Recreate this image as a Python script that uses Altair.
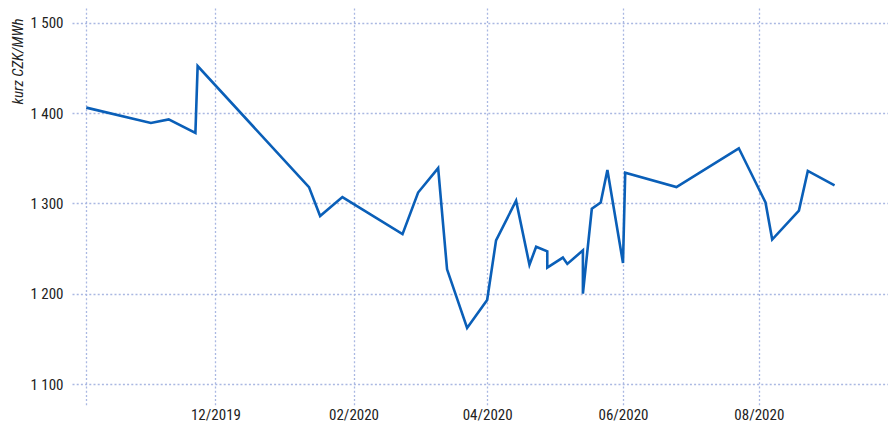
import altair as alt
import pandas as pd

dates = [
    "2019-10-04", "2019-11-02", "2019-11-10", "2019-11-22", "2019-11-23",
    "2020-01-12", "2020-01-17", "2020-01-27", "2020-02-23", "2020-03-01",
    "2020-03-10", "2020-03-14", "2020-03-23", "2020-04-01", "2020-04-05",
    "2020-04-14", "2020-04-20", "2020-04-23", "2020-04-28", "2020-04-28",
    "2020-05-05", "2020-05-07", "2020-05-14", "2020-05-14", "2020-05-18",
    "2020-05-22", "2020-05-25", "2020-06-01", "2020-06-02", "2020-06-25",
    "2020-07-23", "2020-08-04", "2020-08-07", "2020-08-19", "2020-08-23",
    "2020-09-04",
]
values = [
    1406, 1389, 1393, 1378, 1452,
    1318, 1286, 1307, 1266, 1312,
    1339, 1227, 1162, 1193, 1259,
    1303, 1232, 1252, 1247, 1229,
    1240, 1233, 1248, 1200, 1294,
    1301, 1337, 1234, 1334, 1318,
    1361, 1301, 1260, 1292, 1336,
    1320,
]
y_ticks = [1100, 1200, 1300, 1400, 1500]

df = pd.DataFrame({
    "date": [d + "T00:00:00" for d in dates],
    "value": values,
    "i": list(range(len(values))),
})

FONT = "Liberation Sans Narrow, Arial Narrow, Roboto Condensed, Liberation Sans, sans-serif"
GRID = "#aab8e2"

x_vals = [
    alt.DateTime(year=2019, month=10, date=4),
    alt.DateTime(year=2019, month=12, date=1),
    alt.DateTime(year=2020, month=2, date=1),
    alt.DateTime(year=2020, month=4, date=1),
    alt.DateTime(year=2020, month=6, date=1),
    alt.DateTime(year=2020, month=8, date=1),
]

chart = alt.Chart(df).mark_line(color="#0a5fb8", strokeWidth=2.6).encode(
    x=alt.X(
        "date:T",
        scale=alt.Scale(domain=[
            alt.DateTime(year=2019, month=9, date=27, hours=14),
            alt.DateTime(year=2020, month=9, date=28),
        ]),
        axis=alt.Axis(
            values=x_vals,
            title=None,
            grid=True,
            gridColor=GRID,
            gridDash=[2, 2.2],
            gridWidth=1.3,
            domain=False,
            ticks=False,
            labelExpr="datum.value < datetime(2019, 9, 20) ? '' : timeFormat(datum.value, '%m/%Y')",
            labelFont=FONT,
            labelFontSize=15,
            labelColor="#222222",
            labelPadding=2,
        ),
    ),
    y=alt.Y(
        "value:Q",
        scale=alt.Scale(domain=[1076.8, 1516.3], nice=False, zero=False),
        axis=alt.Axis(
            values=y_ticks,
            title="kurz CZK/MWh",
            grid=True,
            gridColor=GRID,
            gridDash=[2, 2.2],
            gridWidth=1.3,
            domain=False,
            ticks=False,
            labelExpr="replace(format(datum.value, ','), ',', ' ')",
            labelFont=FONT,
            labelFontSize=15,
            labelColor="#222222",
            labelPadding=9,
            titleFont=FONT,
            titleFontSize=15,
            titleFontStyle="italic",
            titleFontWeight="normal",
            titleColor="#222222",
            titleAngle=270,
            titleAlign="right",
            titleBaseline="middle",
            titleX=-55,
            titleY=10,
        ),
    ),
    order=alt.Order("i:Q"),
).properties(
    width=816,
    height=397,
    padding={"left": 64, "top": 0, "right": 0, "bottom": 18},
    autosize="none",
).configure_view(stroke=None)

chart.save("out.html", embed_options={"renderer": "svg", "actions": False})
